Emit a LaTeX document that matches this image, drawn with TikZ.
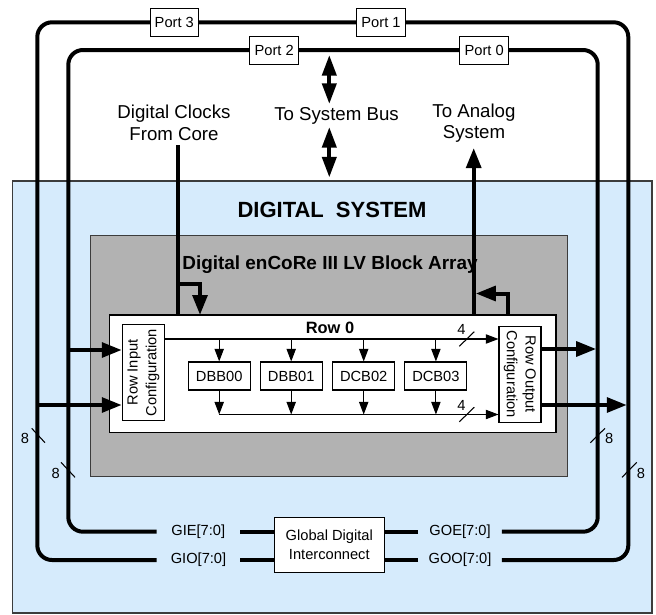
\documentclass[tikz,border=0pt]{standalone}
\usepackage{fontspec}
\setmainfont{Liberation Sans}
\usepackage{graphicx}
\usetikzlibrary{arrows.meta,fit}
\definecolor{sysblue}{RGB}{214,235,252}
\definecolor{arraygray}{RGB}{178,178,178}
\definecolor{framegray}{RGB}{60,60,60}
\newcommand\fsmall{\fontsize{11}{14}\selectfont}
\newcommand\fmid{\fontsize{14}{16.2}\selectfont}
\begin{document}
\begin{tikzpicture}[x=0.75pt,y=-0.75pt,
  bus/.style={line width=3pt},
  busarrow/.style={bus,-{Triangle[length=15pt,width=11pt]}},
  dblarrow/.style={bus,{Triangle[length=15.5pt,width=10.5pt]}-{Triangle[length=15.5pt,width=10.5pt]}},
  sig/.style={line width=0.8pt},
  sigarrow/.style={sig,-{Triangle[length=9.5pt,width=7pt]}},
  region/.style={draw=framegray,line width=0.8pt,inner sep=0pt},
  box/.style={draw=black,fill=white,line width=0.8pt,inner sep=0pt,align=center,font=\fsmall},
  port/.style={box,minimum width=36.4pt,minimum height=20.8pt},
  block/.style={box,minimum width=46.5pt,minimum height=21pt},
  lbl/.style={inner sep=0pt,align=center},
  buslbl/.style={lbl,font=\fsmall,minimum width=62.3pt},
  numlbl/.style={lbl,font=\fsmall}
]
\useasboundingbox (0,0) rectangle (656,614);

% regions
\node[region,fill=sysblue,fit={(12.5,181)(652,613)}] (sys) {};
\node[region,fill=arraygray,fit={(90.7,235.7)(567.3,476.7)}] (arr) {};
\node[region,draw=black,fill=white,fit={(109.3,315)(556,432.3)}] (row) {};

% titles
\node[lbl,font=\fontsize{16.5}{20}\selectfont\bfseries] (title) at (332,209.5) {DIGITAL\hspace{0.55em}SYSTEM};
\node[lbl,font=\fontsize{14.2}{17}\selectfont\bfseries] (arrt) at (330,264.5) {Digital enCoRe III LV Block Array};
\node[lbl,font=\fontsize{12.3}{15}\selectfont\bfseries] (row0) at (330,328) {Row 0};

% row configuration boxes
\node[box,minimum width=31.5pt,minimum height=72.3pt] (rin) at (143.3,372.5)
  {\rotatebox{90}{\begin{tabular}{@{}c@{}}Row Input\\Configuration\end{tabular}}};
\node[box,minimum width=31.5pt,minimum height=72.2pt] (rout) at (520,374.2)
  {\rotatebox{-90}{\begin{tabular}{@{}c@{}}Row Output\\Configuration\end{tabular}}};

% blocks
\foreach \n/\x in {DBB00/219.2, DBB01/291.2, DCB02/363.7, DCB03/435.9}
  \node[block] (\n) at (\x,376) {\n};

% global digital interconnect
\node[box,minimum width=82.5pt,minimum height=41.5pt] (gdi) at (329.3,545) {Global Digital\\Interconnect};

% outside labels
\node[lbl,font=\fmid] (clk) at (174,122.7) {Digital Clocks\\From Core};
\node[lbl,font=\fmid] (sbus) at (336.5,115.5) {To System Bus};
\node[lbl,font=\fmid] (ana) at (474,123) {To Analog\\System};

% bus labels
\node[buslbl] (gie) at (198.3,531.7) {GIE[7:0]};
\node[buslbl] (gio) at (198.5,560) {GIO[7:0]};
\node[buslbl] (goe) at (460,531.7) {GOE[7:0]};
\node[buslbl] (goo) at (460,560) {GOO[7:0]};

% loop corners
\coordinate (oBL) at (37.3,560);
\coordinate (oTL) at (37.3,22.3);
\coordinate (oTR) at (628.3,22.3);
\coordinate (oBR) at (628.3,560);
\coordinate (iBL) at (68.3,531.7);
\coordinate (iTL) at (68.3,50);
\coordinate (iTR) at (597.7,50);
\coordinate (iBR) at (597.7,531.7);

\draw[bus,rounded corners=11pt] (gio.west) -- (oBL) -- (oTL) -- (oTR) -- (oBR) -- (goo.east);
\draw[bus,rounded corners=11pt] (gie.west) -- (iBL) -- (iTL) -- (iTR) -- (iBR) -- (goe.east);
\draw[bus] (gie.east) -- (gie.east -| gdi.west);
\draw[bus] (gio.east) -- (gio.east -| gdi.west);
\draw[bus] (goe.west) -- (goe.west -| gdi.east);
\draw[bus] (goo.west) -- (goo.west -| gdi.east);

% ports
\node[port] (p3) at (174.3,22.2) {Port 3};
\node[port] (p1) at (381,22.2) {Port 1};
\node[port] (p2) at (274.2,50.3) {Port 2};
\node[port] (p0) at (484.2,50.3) {Port 0};

% system bus
\coordinate (sb1) at (329.3,55);
\coordinate (sb2) at (329.3,104);
\coordinate (sb3) at (329.3,127);
\coordinate (sb4) at (329.3,177.5);
\draw[dblarrow] (sb1) -- (sb2);
\draw[dblarrow] (sb3) -- (sb4);

% clocks
\coordinate (clktop) at (177.7,145);
\coordinate (clkbr) at (177.7,284.3);
\coordinate (clkin) at (200,315);
\draw[bus] (clktop) -- (clktop |- row.north);
\draw[busarrow] (clkbr) -| (clkin);

% analog
\coordinate (anatop) at (473.7,148);
\coordinate (anabr) at (508.3,315);
\coordinate (anain) at (475.8,293.5);
\draw[busarrow] (anatop |- row.north) -- (anatop);
\draw[busarrow] (anabr) |- (anain);

% row inputs / outputs
\coordinate (in1) at (68.3,350);
\coordinate (in2) at (37.3,405);
\coordinate (out1) at (596.2,349);
\coordinate (out2) at (626.8,405);
\draw[busarrow] (in1) -- (in1 -| rin.west);
\draw[busarrow] (in2) -- (in2 -| rin.west);
\draw[busarrow] (out1 -| rout.east) -- (out1);
\draw[busarrow] (out2 -| rout.east) -- (out2);

% row buses
\coordinate (tb) at (0,339);
\coordinate (bb) at (0,414.5);
\draw[sigarrow] (rin.east |- tb) -- (rout.west |- tb);
\draw[sigarrow] (DBB00.south |- bb) -- (rout.west |- bb);
\foreach \n in {DBB00,DBB01,DCB02,DCB03}{
  \draw[sigarrow] (\n.north |- tb) -- (\n.north);
  \draw[sigarrow] (\n.south) -- (\n.south |- bb);
}

% width marks
\draw[sig] (459.3,346.3) -- (474.3,331.7);
\node[numlbl] (w4a) at (461.5,329) {4};
\draw[sig] (459.3,421.8) -- (474.3,407.2);
\node[numlbl] (w4b) at (461.5,405) {4};
\draw[sig] (31.7,428.3) -- (45,442.7);
\node[numlbl] (w8a) at (25,438) {8};
\draw[sig] (61,462.3) -- (75,477.3);
\node[numlbl] (w8b) at (55.7,473.3) {8};
\draw[sig] (590.3,442.7) -- (605,428.3);
\node[numlbl] (w8c) at (609.3,438.3) {8};
\draw[sig] (622,477.3) -- (636.7,462.3);
\node[numlbl] (w8d) at (641,473.3) {8};
\end{tikzpicture}
\end{document}
